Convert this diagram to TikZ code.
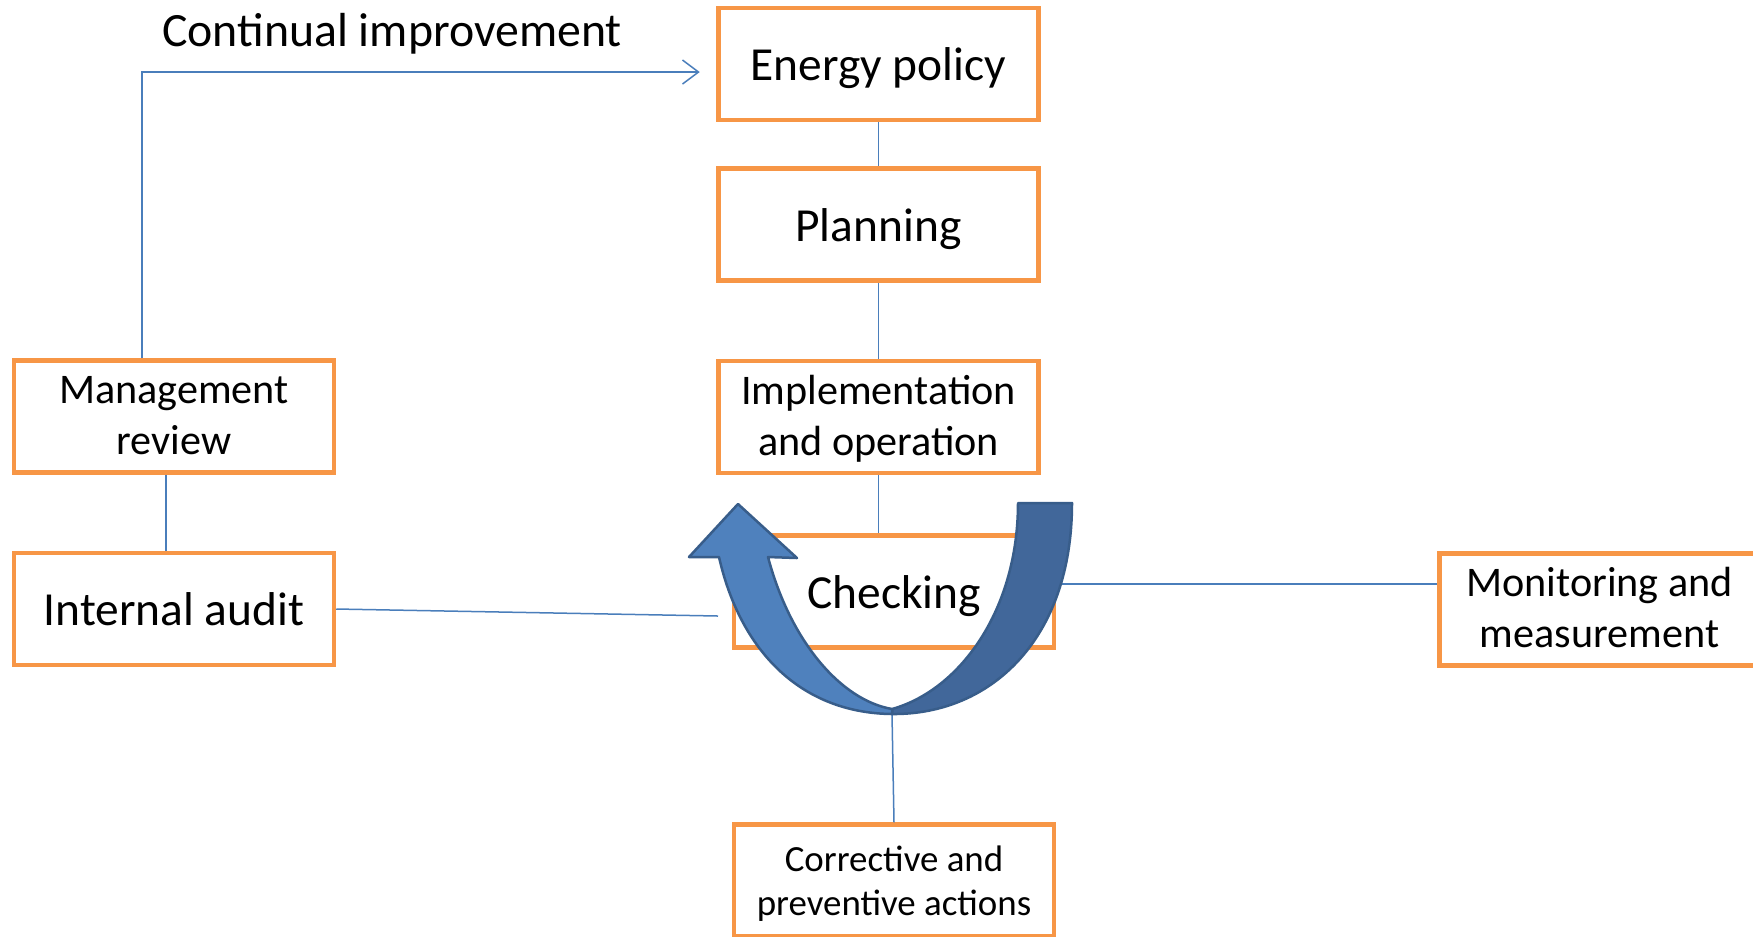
\documentclass[tikz,border=0pt]{standalone}
\usepackage{fontspec}
\setmainfont{Carlito}
\usepackage{xcolor}
\usetikzlibrary{arrows.meta}
\definecolor{boxorange}{HTML}{F79646}
\definecolor{linkblue}{HTML}{4A7EBB}
\definecolor{uturnlight}{HTML}{4F81BD}
\definecolor{uturndark}{HTML}{41679A}
\definecolor{uturnedge}{HTML}{385D8A}

\begin{document}
\begin{tikzpicture}[x=0.1mm, y=-0.1mm,
    stage/.style={draw=boxorange, line width=0.45mm, fill=white, minimum width=32mm,
        minimum height=11.2mm, inner sep=0pt, align=center},
    big/.style={font=\fontsize{13.5}{16.2}\selectfont,
        execute at begin node={\rule{0pt}{0.95em}}, execute at end node={\rule[-0.24em]{0pt}{0pt}}},
    mid/.style={font=\fontsize{12}{14.5}\selectfont,
        execute at begin node={\rule{0pt}{24.7pt}}, execute at end node={\rule[-0.24em]{0pt}{0pt}}},
    small/.style={font=\fontsize{10.5}{12.5}\selectfont,
        execute at begin node={\rule{0pt}{22.2pt}}, execute at end node={\rule[-0.24em]{0pt}{0pt}}},
    link/.style={draw=linkblue, line width=0.15mm},
    uturn/.style={draw=uturnedge, line width=0.25mm, line join=round}]
    \fill[white] (0,0) rectangle (1753,936);
    \useasboundingbox (0,0) rectangle (1753,936);
    % the cycle
    \node[stage,big] (pol) at (878.5,64) {Energy policy};
    \node[stage,big] (plan) at (878.5,224.5) {Planning};
    \node[stage,mid] (impl) at (878.5,417) {Implementation\\and operation};
    \node[stage,big] (chk) at (894,591.5) {Checking};
    \node[stage,mid] (mgmt) at (174,416.5) {Management\\review};
    \node[stage,big] (audit) at (174,609) {Internal audit};
    \node[stage,mid] (mon) at (1599.5,609.5) {Monitoring and\\measurement};
    \node[stage,small] (corr) at (894,880.5) {Corrective and\\preventive actions};
    \node[font=\fontsize{13.6}{16.3}\selectfont, anchor=base] (ci) at (392,46.5) {Continual improvement};
    \coordinate (ubot) at (892,714);
    \coordinate (auditend) at (718,616);
    \coordinate (monin) at (1437,584);
    \draw[link] (pol) -- (plan);
    \draw[link] (plan) -- (impl);
    \draw[link] (impl.south) -- (impl.south |- chk.north);
    \draw[link] ([xshift=-0.8mm]mgmt.south) -- ([xshift=-0.8mm]audit.north);
    \draw[link] (audit.east) -- (auditend);
    \draw[link] (chk.east |- monin) -- (monin);
    \draw[link] (ubot) -- (corr.north);
    \draw[link, -{Straight Barb[length=1.6mm, width=2.4mm]}] ([xshift=-3.2mm]mgmt.north)
        |- ([xshift=-1.65mm, yshift=-0.8mm]pol.west);
    % u-turn arrow over the checking box
    \filldraw[uturn, fill=uturndark] (892,709) .. controls (960,690) and (1018,610) .. (1018,503)
        -- (1072,503) .. controls (1072,640) and (990,715) .. (ubot) -- cycle;
    \filldraw[uturn, fill=uturnlight] (719,557) .. controls (740,650) and (800,713) .. (ubot)
        -- (892,709) .. controls (840,700) and (790,640) .. (768,557)
        -- (797,558) -- (738,504) -- (689,557) -- cycle;
\end{tikzpicture}
\end{document}
